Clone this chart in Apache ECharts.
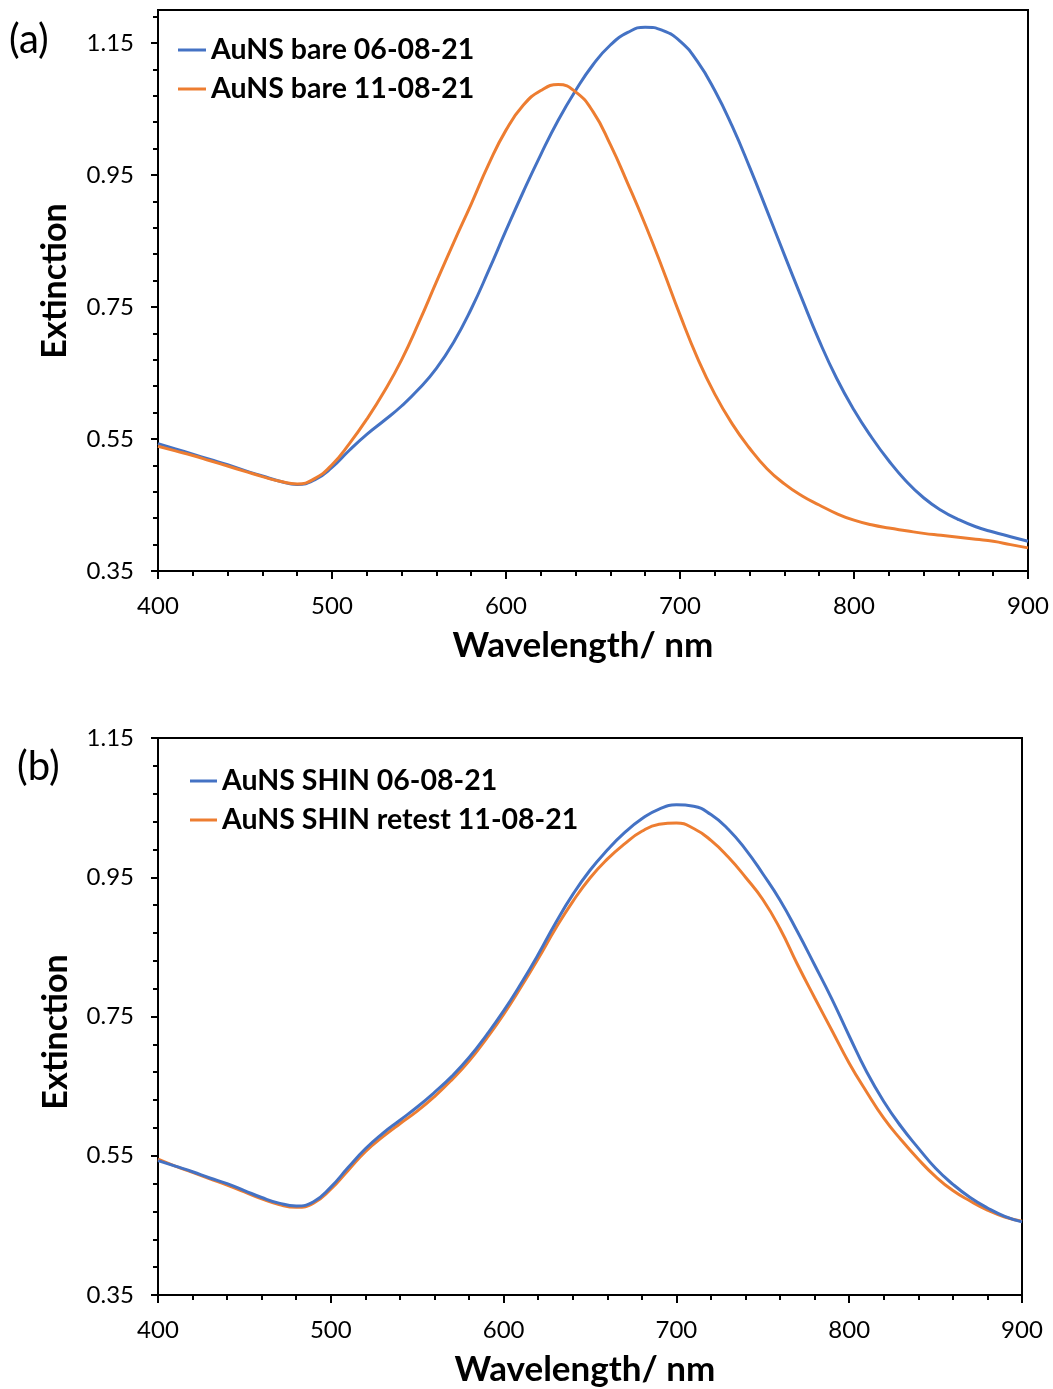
<!DOCTYPE html>
<html>
<head>
<meta charset="utf-8">
<script src="https://cdn.jsdelivr.net/npm/echarts@6/dist/echarts.min.js"></script>
<style>
html,body{margin:0;padding:0;background:#fff;}
#chart{width:1053px;height:1389px;}
</style>
</head>
<body>
<div id="chart"></div>
<script>
const wavelength = [400,410,420,430,440,450,460,470,480,490,500,510,520,530,540,550,560,570,580,590,600,610,620,630,640,650,660,670,680,690,700,710,720,730,740,750,760,770,780,790,800,810,820,830,840,850,860,870,880,890,900];

const bare0608 = [0.543,0.535,0.527,0.519,0.511,0.502,0.494,0.486,0.481,0.488,0.507,0.533,0.557,0.578,0.600,0.626,0.657,0.697,0.747,0.805,0.866,0.925,0.981,1.033,1.078,1.117,1.147,1.166,1.174,1.169,1.153,1.122,1.078,1.024,0.962,0.896,0.829,0.763,0.699,0.642,0.594,0.553,0.517,0.486,0.461,0.442,0.428,0.417,0.409,0.402,0.395];
const bare1108 = [0.539,0.532,0.525,0.517,0.509,0.501,0.493,0.486,0.482,0.490,0.511,0.543,0.580,0.622,0.670,0.727,0.788,0.848,0.906,0.966,1.018,1.056,1.078,1.087,1.076,1.046,0.996,0.937,0.875,0.808,0.738,0.673,0.618,0.573,0.536,0.505,0.482,0.464,0.450,0.437,0.427,0.420,0.415,0.411,0.407,0.404,0.401,0.398,0.395,0.390,0.385];

const shin0608 = [0.543,0.535,0.527,0.518,0.510,0.500,0.490,0.482,0.478,0.484,0.505,0.533,0.560,0.582,0.601,0.620,0.641,0.664,0.691,0.723,0.758,0.797,0.839,0.884,0.925,0.960,0.989,1.014,1.034,1.048,1.054,1.052,1.040,1.019,0.990,0.955,0.917,0.872,0.824,0.775,0.722,0.671,0.628,0.592,0.561,0.532,0.509,0.490,0.475,0.463,0.455];
const shin1108 = [0.545,0.535,0.526,0.517,0.508,0.498,0.488,0.480,0.476,0.482,0.502,0.529,0.556,0.577,0.596,0.614,0.635,0.659,0.686,0.718,0.753,0.792,0.833,0.876,0.915,0.949,0.976,0.998,1.016,1.026,1.028,1.020,1.003,0.979,0.950,0.918,0.876,0.825,0.777,0.730,0.683,0.642,0.604,0.573,0.545,0.520,0.500,0.485,0.472,0.462,0.456];

const xTickLabels = [400,500,600,700,800,900];
const yTickLabels = [0.35,0.55,0.75,0.95,1.15];
const yMinorTicks = [0.35,0.39,0.43,0.47,0.51,0.55,0.59,0.63,0.67,0.71,0.75,0.79,0.83,0.87,0.91,0.95,0.99,1.03,1.07,1.11,1.15,1.19];

const seriesNames = ['AuNS bare 06-08-21','AuNS bare 11-08-21','AuNS SHIN 06-08-21','AuNS SHIN retest 11-08-21'];
const BLUE = '#4472C4', ORANGE = '#ED7D31';
const FONT = 'Lato, "Open Sans", sans-serif';

function pairs(vals){ return wavelength.map((w,i)=>[w, vals[i]]); }

function xAxisFor(gi){
  return {
    type:'value', gridIndex:gi, min:400, max:900, interval:100,
    axisLine:{show:true, lineStyle:{color:'#000', width:2}},
    axisTick:{show:true, inside:false, length:8, customValues:xTickLabels, lineStyle:{color:'#000', width:2}},
    minorTick:{show:true, splitNumber:5, length:5, lineStyle:{color:'#000', width:2}},
    axisLabel:{color:'#000', fontSize:24, fontFamily:FONT, margin:23, customValues:xTickLabels},
    splitLine:{show:false}, minorSplitLine:{show:false}
  };
}
function yMajor(gi, max){
  return {
    type:'value', gridIndex:gi, min:0.35, max:max, position:'left',
    axisLine:{show:true, lineStyle:{color:'#000', width:2}},
    axisTick:{show:true, inside:false, length:7, customValues:yTickLabels, lineStyle:{color:'#000', width:2}},
    axisLabel:{color:'#000', fontSize:24, fontFamily:FONT, margin:24, customValues:yTickLabels,
      formatter:(v)=>Number(v).toFixed(2)},
    splitLine:{show:false}
  };
}
function yMinor(gi, max){
  return {
    type:'value', gridIndex:gi, min:0.35, max:max, position:'left',
    axisLine:{show:false},
    axisTick:{show:true, inside:false, length:5, customValues:yMinorTicks.filter(v=>v<=max+1e-9), lineStyle:{color:'#000', width:2}},
    axisLabel:{show:false},
    splitLine:{show:false}
  };
}
function lineSeries(name, xi, yi, vals, color, z){
  return {name:name, type:'line', xAxisIndex:xi, yAxisIndex:yi, data:pairs(vals), showSymbol:false,
    smooth:0.5, smoothConstraint:false, lineStyle:{color:color, width:3}, itemStyle:{color:color}, z:z};
}

const chart = echarts.init(document.getElementById('chart'), null, {renderer:'canvas'});
chart.setOption({
  backgroundColor:'#fff',
  animation:false,
  grid:[
    {left:158, top:10, width:870, height:561, show:true, borderColor:'#000', borderWidth:2, backgroundColor:'transparent'},
    {left:158, top:738, width:864, height:557, show:true, borderColor:'#000', borderWidth:2, backgroundColor:'transparent'}
  ],
  xAxis:[xAxisFor(0), xAxisFor(1)],
  yAxis:[yMajor(0,1.2), yMinor(0,1.2), yMajor(1,1.15), yMinor(1,1.15)],
  legend:[
    {orient:'vertical', left:173, top:30, data:[seriesNames[0],seriesNames[1]], icon:'rect', itemWidth:28, itemHeight:3, itemGap:9,
     textStyle:{color:'#000', fontSize:28.5, fontWeight:'bold', fontFamily:FONT, lineHeight:30}},
    {orient:'vertical', left:185, top:761, data:[seriesNames[2],seriesNames[3]], icon:'rect', itemWidth:27, itemHeight:3, itemGap:9,
     textStyle:{color:'#000', fontSize:28.5, fontWeight:'bold', fontFamily:FONT, lineHeight:30}}
  ],
  series:[
    lineSeries(seriesNames[0], 0, 0, bare0608, BLUE, 2),
    lineSeries(seriesNames[1], 0, 0, bare1108, ORANGE, 3),
    lineSeries(seriesNames[2], 1, 2, shin0608, BLUE, 3),
    lineSeries(seriesNames[3], 1, 2, shin1108, ORANGE, 2)
  ],
  graphic:[
    {type:'text', x:9, y:40, style:{text:'(a)', fontSize:40, fontFamily:FONT, fill:'#000', align:'left', verticalAlign:'middle'}},
    {type:'text', x:17, y:767, style:{text:'(b)', fontSize:40, fontFamily:FONT, fill:'#000', align:'left', verticalAlign:'middle'}},
    {type:'text', x:55, y:281, rotation:Math.PI/2, style:{text:'Extinction', fontSize:34, fontWeight:'bold', fontFamily:FONT, fill:'#000', align:'center', verticalAlign:'middle'}},
    {type:'text', x:56, y:1032, rotation:Math.PI/2, style:{text:'Extinction', fontSize:34, fontWeight:'bold', fontFamily:FONT, fill:'#000', align:'center', verticalAlign:'middle'}},
    {type:'text', x:583, y:646, style:{text:'Wavelength/ nm', fontSize:35, fontWeight:'bold', fontFamily:FONT, fill:'#000', align:'center', verticalAlign:'middle'}},
    {type:'text', x:585, y:1370, style:{text:'Wavelength/ nm', fontSize:35, fontWeight:'bold', fontFamily:FONT, fill:'#000', align:'center', verticalAlign:'middle'}}
  ]
});
</script>
</body>
</html>
